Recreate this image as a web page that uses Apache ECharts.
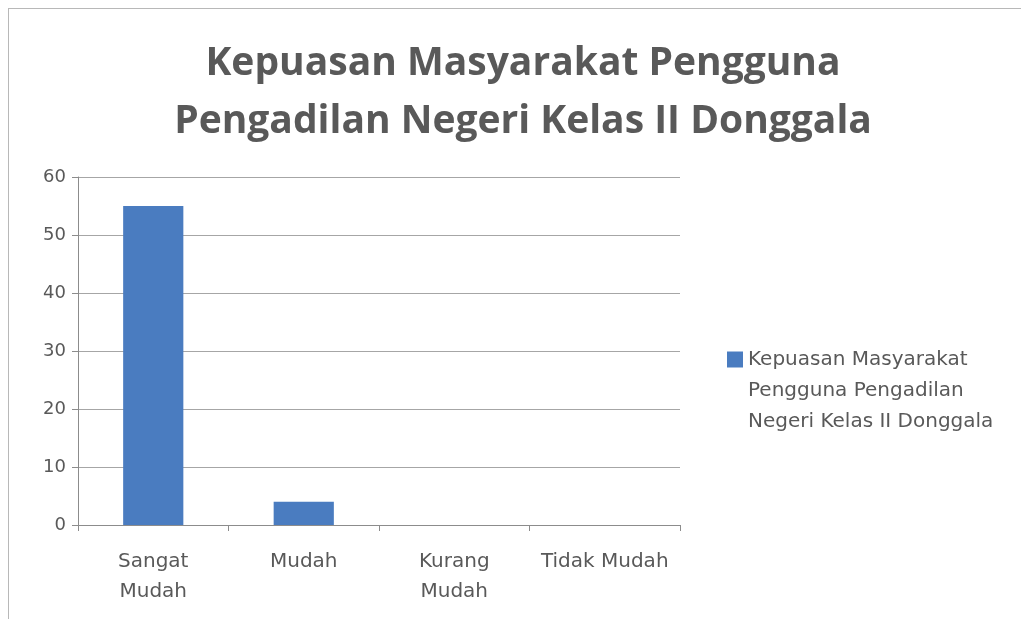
<!DOCTYPE html>
<html>
<head>
<meta charset="UTF-8">
<title>Kepuasan Masyarakat</title>
<script src="https://cdn.jsdelivr.net/npm/echarts@6.0.0/dist/echarts.min.js"></script>
<style>
  html, body { margin: 0; padding: 0; background: #fff; }
  #frame { position: absolute; left: 8px; top: 8px; width: 1013px; height: 611px;
           border-left: 1px solid #b8b8b8; border-top: 1px solid #b8b8b8; box-sizing: border-box; }
  #chart { width: 1021px; height: 619px; }
</style>
</head>
<body>
<div id="frame"></div>
<div id="chart"></div>
<script>
  // data
  var categories = ['Sangat\nMudah', 'Mudah', 'Kurang\nMudah', 'Tidak Mudah'];
  var values = [55, 4, 0, 0];
  var seriesName = 'Kepuasan Masyarakat Pengguna Pengadilan Negeri Kelas II Donggala';
  var legendLines = ['Kepuasan Masyarakat', 'Pengguna Pengadilan', 'Negeri Kelas II Donggala'];

  var txt = '#595959';
  var font = '"DejaVu Sans", "Open Sans", sans-serif';

  var chart = echarts.init(document.getElementById('chart'));
  chart.setOption({
    animation: false,
    textStyle: { fontFamily: font },
    title: {
      text: 'Kepuasan Masyarakat Pengguna\nPengadilan Negeri Kelas II Donggala',
      left: 518, top: 30, textAlign: 'center',
      textStyle: { color: txt, fontSize: 39, fontWeight: 'bold', lineHeight: 58, fontFamily: '"Open Sans", sans-serif' }
    },
    legend: {
      orient: 'vertical', left: 722, top: 303,
      itemWidth: 16, itemHeight: 16, icon: 'rect', itemGap: 0,
      formatter: function () {
        // spacer line so the marker sits beside the first line of text
        return '{s|\u200b}\n' + legendLines.map(function (l) { return '{t|' + l + '}'; }).join('\n');
      },
      textStyle: {
        color: txt, fontSize: 20, fontFamily: font,
        rich: {
          s: { lineHeight: 62, fontSize: 10 },
          t: { color: txt, fontSize: 20, lineHeight: 31, fontFamily: font }
        }
      }
    },
    grid: { left: 78, right: 341, top: 177, bottom: 94 },
    xAxis: {
      type: 'category', data: categories,
      axisLine: { lineStyle: { color: '#8c8c8c' } },
      axisTick: { show: true, length: 6, lineStyle: { color: '#8c8c8c' } },
      axisLabel: { interval: 0, color: txt, fontSize: 20, lineHeight: 30, margin: 22, fontFamily: font }
    },
    yAxis: {
      type: 'value', min: 0, max: 60, interval: 10,
      axisLine: { show: true, lineStyle: { color: '#8c8c8c' } },
      axisTick: { show: true, length: 6, lineStyle: { color: '#8c8c8c' } },
      axisLabel: { color: txt, fontSize: 18, margin: 12, fontFamily: font },
      splitLine: { lineStyle: { color: '#a6a6a6' } }
    },
    series: [{
      name: seriesName, type: 'bar', data: values,
      barWidth: '40%',
      itemStyle: { color: '#4a7cc0' }
    }]
  });
</script>
</body>
</html>
